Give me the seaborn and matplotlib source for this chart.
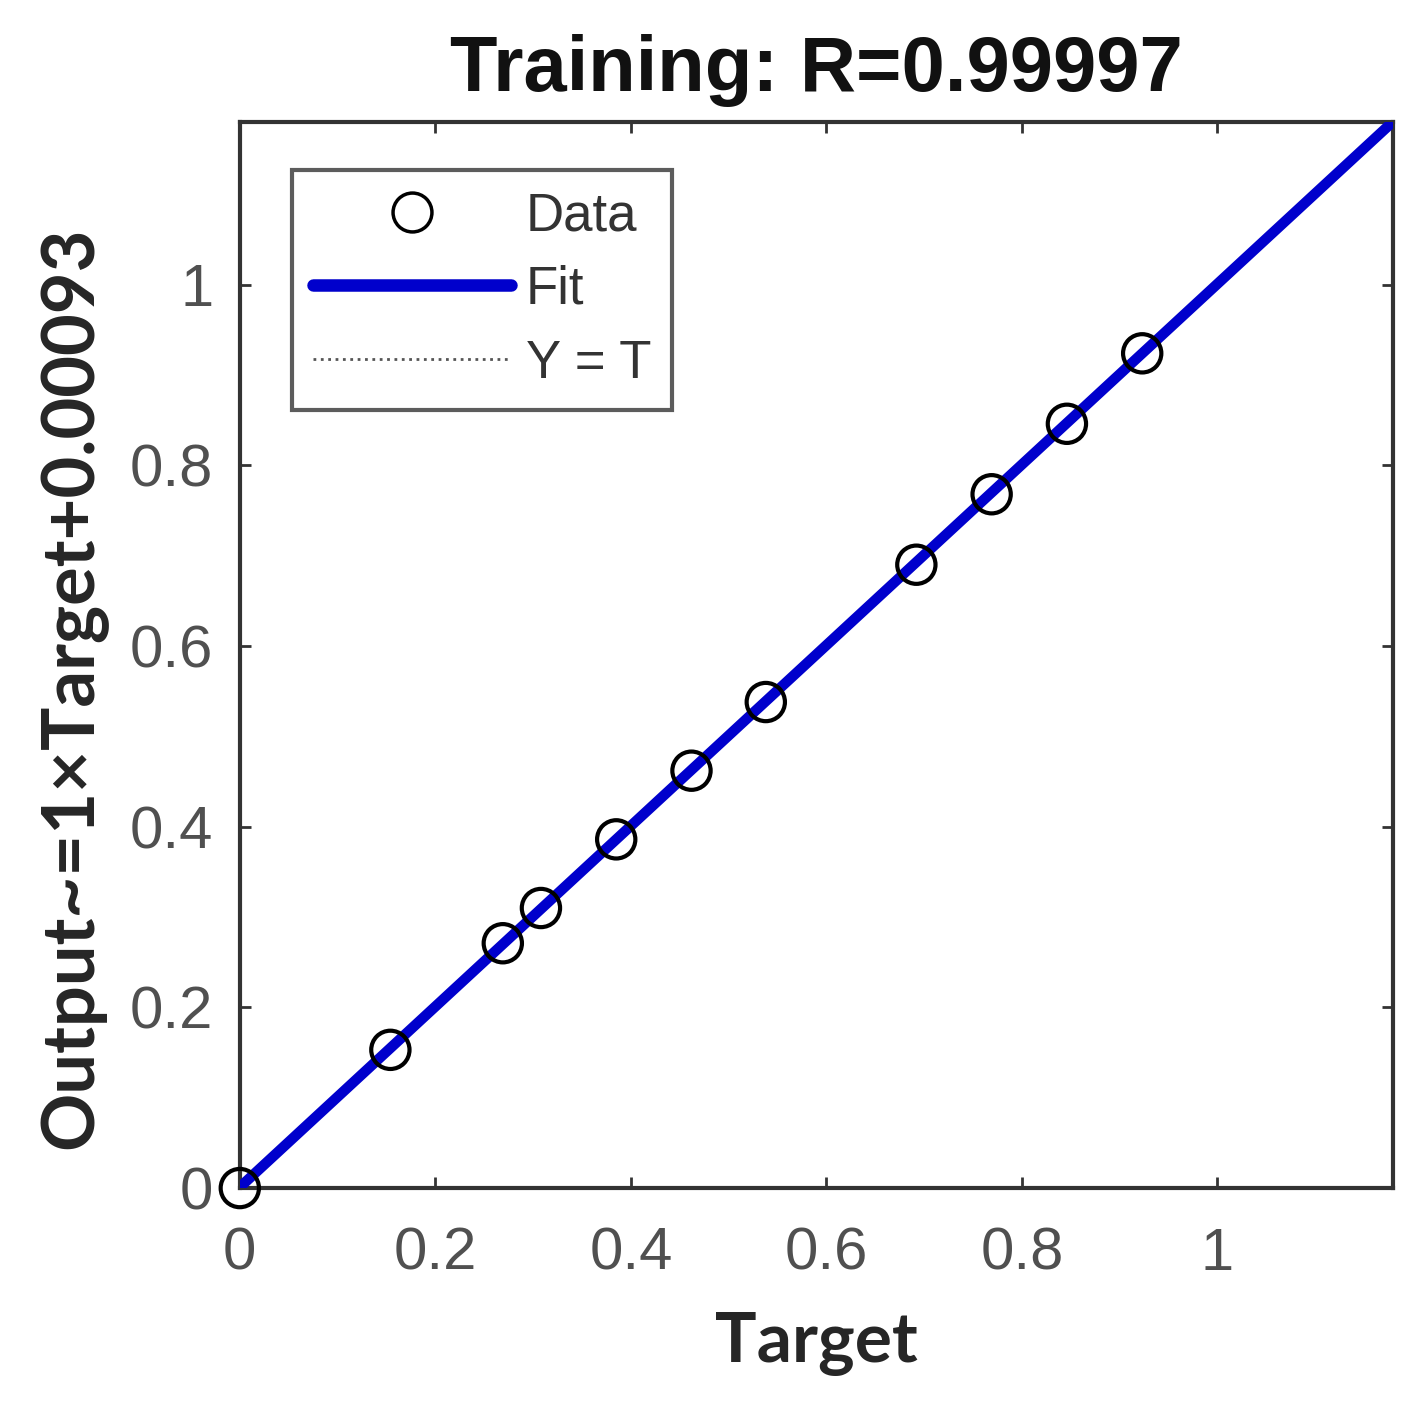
import numpy as np
import pandas as pd
import matplotlib.pyplot as plt
import seaborn as sns
from matplotlib.lines import Line2D

# values
targets = [0.0, 0.154, 0.269, 0.308, 0.385, 0.462, 0.538, 0.692, 0.769, 0.846, 0.923]
outputs = [0.0, 0.153, 0.271, 0.310, 0.386, 0.462, 0.538, 0.690, 0.768, 0.846, 0.924]
fit_slope = 1.0
fit_intercept = 0.00093
r_value = 0.99997
axis_max = 1.18
ticks = [0, 0.2, 0.4, 0.6, 0.8, 1]
tick_labels = ["0", "0.2", "0.4", "0.6", "0.8", "1"]

FIT_BLUE = "#0000cc"

sns.set_style("ticks")
plt.rcParams["font.family"] = ["Liberation Sans", "DejaVu Sans"]

fig = plt.figure(figsize=(14.19, 14.11), dpi=100)
ax = fig.add_axes([0.169, 0.158, 0.813, 0.7555])

data = pd.DataFrame({"Target": targets, "Output": outputs})
line_x = np.array([0.0, axis_max])
lines = pd.DataFrame({"x": line_x,
                      "fit": fit_slope * line_x + fit_intercept,
                      "yt": line_x})

# Y = T reference line sits underneath the fit line
sns.lineplot(data=lines, x="x", y="yt", ax=ax, color="#555555",
             linestyle=":", linewidth=2, zorder=2)
sns.lineplot(data=lines, x="x", y="fit", ax=ax, color=FIT_BLUE,
             linewidth=7.5, zorder=3)
sns.scatterplot(data=data, x="Target", y="Output", ax=ax, marker="o",
                s=760, facecolor="none", edgecolor="black", linewidth=3,
                zorder=4, clip_on=False)

ax.set_xlim(0, axis_max)
ax.set_ylim(0, axis_max)
ax.set_xticks(ticks)
ax.set_xticklabels(tick_labels)
ax.set_yticks(ticks)
ax.set_yticklabels(tick_labels)
ax.tick_params(direction="in", length=8, width=2, colors="#333333",
               labelcolor="#505050", labelsize=43, top=True, right=True)
ax.tick_params(axis="x", pad=28)
ax.tick_params(axis="y", pad=19)
for side in ["left", "right", "top", "bottom"]:
    ax.spines[side].set_visible(True)
    ax.spines[side].set_linewidth(3)
    ax.spines[side].set_color("#333333")

ax.set_title(f"Training: R={r_value}", fontsize=56, fontweight="bold",
             pad=22, color="#111111")
ax.set_xlabel("Target", fontsize=50, fontweight="bold", family="Lato")
ax.set_ylabel("Output~=1\u00d7Target+0.00093", fontsize=52,
              fontweight="bold", family="Lato")
ax.xaxis.set_label_coords(0.5, -0.116)
ax.yaxis.set_label_coords(-0.115, 0.469)

handles = [
    Line2D([], [], linestyle="none", marker="o", markersize=28,
           markerfacecolor="none", markeredgecolor="black",
           markeredgewidth=2.5),
    Line2D([], [], color=FIT_BLUE, linewidth=9),
    Line2D([], [], color="#555555", linestyle=":", linewidth=2),
]
leg = ax.legend(handles, ["Data", "Fit", "Y = T"], loc="upper left",
                bbox_to_anchor=(0.045, 0.955), borderaxespad=0,
                fontsize=38, frameon=True, fancybox=False,
                edgecolor="#333333", handlelength=3.75,
                handletextpad=0.28, labelspacing=0.45, borderpad=0.4)
leg.get_frame().set_linewidth(3)
for t in leg.get_texts():
    t.set_color("#333333")

fig.savefig("out.png", dpi=100)
